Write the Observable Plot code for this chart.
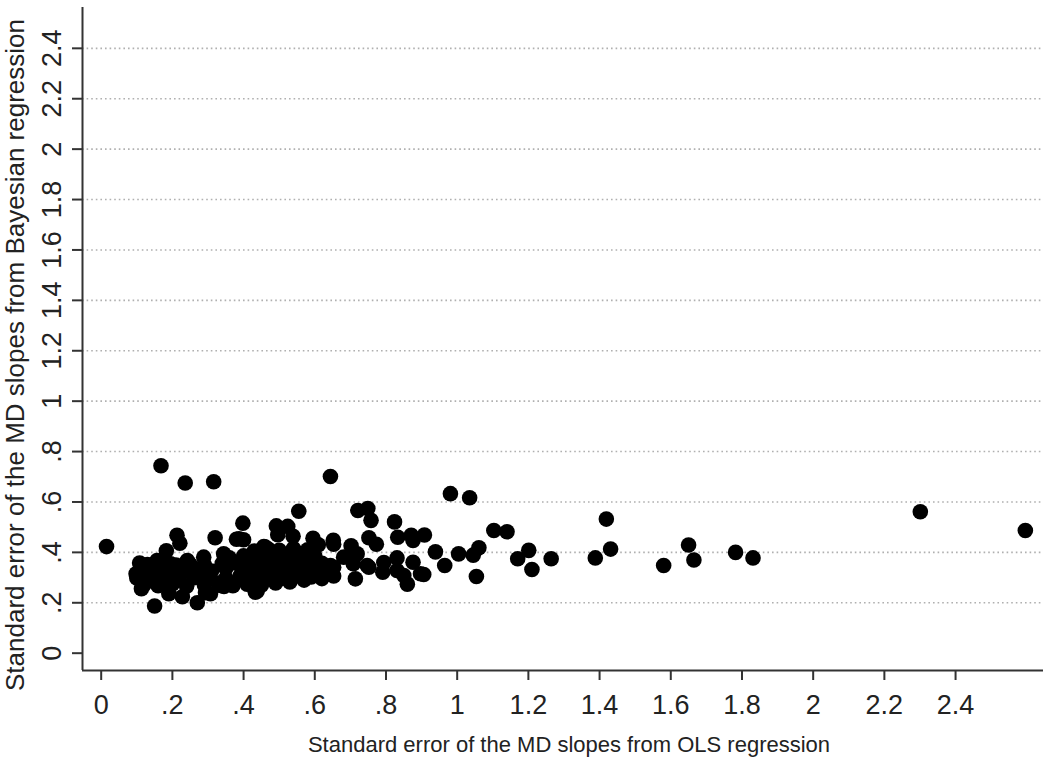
<!DOCTYPE html>
<html>
<head>
<meta charset="utf-8">
<script src="https://cdn.jsdelivr.net/npm/d3@7"></script>
<script src="https://cdn.jsdelivr.net/npm/@observablehq/plot@0.6"></script>
<style>
  html, body { margin: 0; padding: 0; background: #fff; }
  #chart { width: 1050px; height: 758px; overflow: hidden; }
</style>
</head>
<body>
<div id="chart"></div>
<script>
// ---- Data ----
const xTitle = "Standard error of the MD slopes from OLS regression";
const yTitle = "Standard error of the MD slopes from Bayesian regression";

const xTicks = [0, 0.2, 0.4, 0.6, 0.8, 1, 1.2, 1.4, 1.6, 1.8, 2, 2.2, 2.4];
const yTicks = [0, 0.2, 0.4, 0.6, 0.8, 1, 1.2, 1.4, 1.6, 1.8, 2, 2.2, 2.4];
const xDomain = [-0.0525, 2.647];
const yDomain = [-0.0687, 2.562];

// Standard error from OLS regression (x) and Bayesian regression (y)
const olsSE = [
  0.015, 0.168, 0.236, 0.316, 0.555, 0.398, 0.492, 0.524, 0.213, 0.221,
  0.320, 0.380, 0.400, 0.496, 0.539, 0.595, 0.610, 0.183, 0.157, 0.108,
  0.098, 0.113, 0.150, 0.270, 0.228, 0.190, 0.438, 0.457, 0.293, 0.345,
  0.644, 0.981, 1.035, 0.721, 0.749, 0.758, 0.824, 0.652, 0.653, 0.702,
  0.752, 0.773, 0.833, 0.871, 0.908, 0.876, 0.939, 0.965, 1.004, 1.045,
  1.061, 1.054, 1.103, 1.140, 1.170, 1.201, 1.210, 0.714, 0.860, 0.906,
  0.794, 0.831, 0.876, 0.791, 0.752, 0.681, 0.644, 0.616, 0.653, 0.574,
  0.578, 1.419, 1.431, 1.388, 1.264, 1.650, 1.665, 1.580, 1.782, 1.831,
  2.301, 2.596, 0.307, 0.335, 0.288, 0.344, 0.242, 0.195, 0.387, 0.461,
  0.433, 0.719, 0.708, 0.747, 0.831, 0.897, 0.850, 0.653,
  0.12, 0.16, 0.20, 0.24, 0.29, 0.33, 0.37, 0.41, 0.45, 0.49, 0.53, 0.57,
  0.10, 0.14, 0.18, 0.22, 0.26, 0.30, 0.35, 0.39, 0.43, 0.47, 0.51, 0.55, 0.59, 0.62,
  0.11, 0.15, 0.19, 0.23, 0.27, 0.31, 0.35, 0.40, 0.44, 0.48, 0.52, 0.56, 0.60, 0.63,
  0.13, 0.17, 0.21, 0.25, 0.29, 0.34, 0.38, 0.42, 0.46, 0.50, 0.54, 0.58, 0.62,
  0.36, 0.40, 0.44, 0.48, 0.52, 0.56, 0.60,
  0.43, 0.47, 0.50, 0.54, 0.58
];
const bayesSE = [
  0.423, 0.744, 0.675, 0.680, 0.563, 0.516, 0.505, 0.503, 0.468, 0.436,
  0.458, 0.452, 0.450, 0.470, 0.464, 0.456, 0.430, 0.406, 0.368, 0.358,
  0.315, 0.256, 0.187, 0.200, 0.224, 0.236, 0.246, 0.423, 0.240, 0.265,
  0.701, 0.633, 0.617, 0.566, 0.574, 0.527, 0.521, 0.448, 0.432, 0.426,
  0.458, 0.432, 0.460, 0.468, 0.469, 0.447, 0.402, 0.348, 0.394, 0.389,
  0.418, 0.304, 0.487, 0.482, 0.375, 0.408, 0.332, 0.295, 0.274, 0.312,
  0.360, 0.378, 0.361, 0.321, 0.341, 0.381, 0.348, 0.315, 0.306, 0.368,
  0.315, 0.532, 0.413, 0.378, 0.375, 0.429, 0.370, 0.348, 0.400, 0.378,
  0.561, 0.487, 0.236, 0.269, 0.381, 0.394, 0.368, 0.355, 0.454, 0.421,
  0.242, 0.394, 0.355, 0.348, 0.328, 0.315, 0.308, 0.341,
  0.272, 0.268, 0.275, 0.266, 0.271, 0.278, 0.268, 0.274, 0.270, 0.279, 0.283, 0.290,
  0.298, 0.303, 0.296, 0.305, 0.299, 0.302, 0.297, 0.306, 0.300, 0.304, 0.298, 0.307, 0.302, 0.296,
  0.332, 0.327, 0.335, 0.328, 0.333, 0.326, 0.336, 0.329, 0.334, 0.327, 0.336, 0.330, 0.334, 0.328,
  0.352, 0.358, 0.350, 0.352, 0.350, 0.356, 0.357, 0.364, 0.358, 0.366, 0.360, 0.364, 0.357,
  0.378, 0.386, 0.382, 0.390, 0.384, 0.392, 0.386,
  0.405, 0.412, 0.408, 0.415, 0.410
];

const points = olsSE.map((x, i) => ({x, y: bayesSE[i]}));
const fmt = d => d === 0 ? "0" : d3.format("~g")(d).replace(/^0\./, ".");
const ink = "#333";

const chart = Plot.plot({
  width: 1050,
  height: 758,
  marginLeft: 82,
  marginRight: 7,
  marginTop: 7,
  marginBottom: 88,
  style: {fontFamily: "'Liberation Sans', Arial, sans-serif", background: "#fff", color: ink},
  x: {domain: xDomain},
  y: {domain: yDomain},
  marks: [
    Plot.gridY(yTicks.filter(d => d > 0), {stroke: "#b0b0b0", strokeOpacity: 1, strokeWidth: 1.6, strokeDasharray: "1.6,3"}),
    Plot.ruleX([xDomain[0]], {stroke: ink, strokeWidth: 2}),
    Plot.ruleY([yDomain[0]], {stroke: ink, strokeWidth: 2}),
    Plot.axisX(xTicks, {tickFormat: fmt, tickSize: 10, tickPadding: 14, fontSize: 27, label: null, stroke: ink, strokeWidth: 2, fill: "#222"}),
    Plot.axisY(yTicks, {tickFormat: fmt, tickSize: 10, tickPadding: 12, tickRotate: -90, fontSize: 27, label: null, stroke: ink, strokeWidth: 2, fill: "#222"}),
    Plot.dot(points, {x: "x", y: "y", r: 7.8, fill: "#000", stroke: "none"}),
    Plot.text([xTitle], {text: d => d, frameAnchor: "bottom", dx: 6, dy: 81, fontSize: 22, fill: "#222"}),
    Plot.text([yTitle], {text: d => d, frameAnchor: "left", textAnchor: "middle", lineAnchor: "middle", rotate: -90, dx: -67, dy: 16, fontSize: 26, fill: "#222"})
  ]
});
document.getElementById("chart").appendChild(chart);
</script>
</body>
</html>
